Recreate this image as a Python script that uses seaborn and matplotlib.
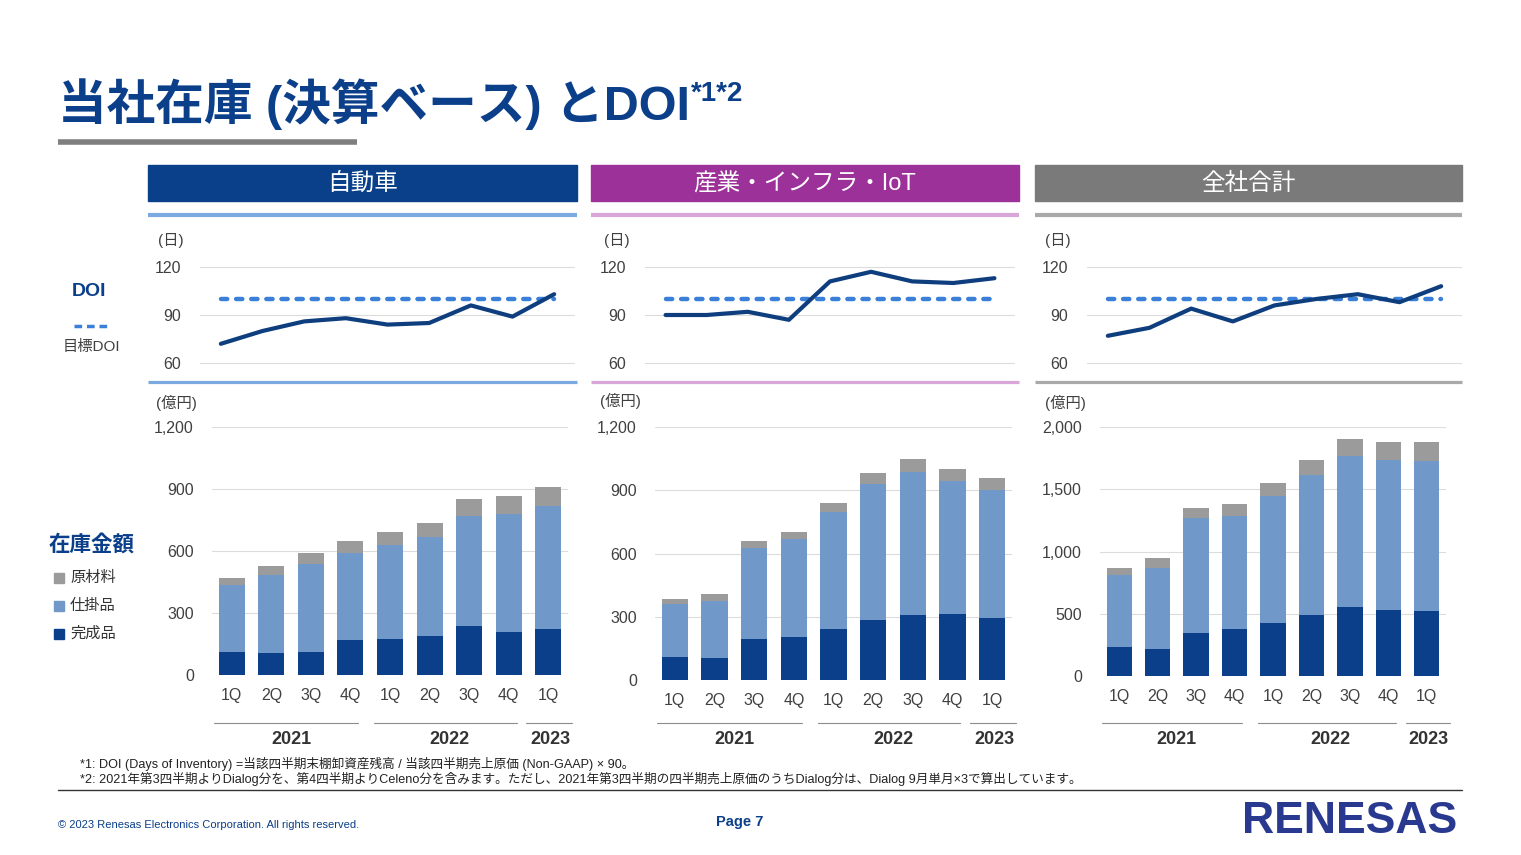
import numpy as np
import pandas as pd
import matplotlib
matplotlib.use('Agg')
import matplotlib.pyplot as plt
import matplotlib.ticker as mticker
import matplotlib.transforms as mtrans
from matplotlib.patches import Rectangle
import seaborn as sns

# quarters 2021 1Q .. 2023 1Q
periods = ['2021-1Q', '2021-2Q', '2021-3Q', '2021-4Q',
           '2022-1Q', '2022-2Q', '2022-3Q', '2022-4Q', '2023-1Q']
quarter_labels = ['1Q', '2Q', '3Q', '4Q', '1Q', '2Q', '3Q', '4Q', '1Q']
years = ['2021', '2022', '2023']
target_doi = 100

# DOI (days)
doi_auto = [72, 80, 86, 88, 84, 85, 96, 89, 103]
doi_indus = [90, 90, 92, 87, 111, 117, 111, 110, 113]
doi_total = [77, 82, 94, 86, 96, 100, 103, 98, 108]

# inventory (億円): 完成品 / 仕掛品 / 原材料
fin_auto = [113, 108, 111, 168, 176, 190, 239, 210, 224]
wip_auto = [321, 374, 428, 421, 451, 476, 529, 567, 592]
raw_auto = [34, 47, 51, 59, 65, 71, 82, 91, 95]

fin_indus = [109, 103, 195, 204, 242, 286, 307, 315, 296]
wip_indus = [252, 274, 430, 464, 557, 644, 679, 631, 604]
raw_indus = [22, 30, 33, 36, 41, 54, 61, 57, 59]

fin_total = [233, 220, 349, 381, 429, 488, 555, 531, 523]
wip_total = [582, 651, 919, 906, 1013, 1123, 1212, 1201, 1206]
raw_total = [54, 75, 83, 94, 110, 124, 139, 150, 153]

navy = '#0B3F8A'
fin_c, wip_c, raw_c = '#0B3F8A', '#7099C9', '#9B9B9B'
doi_c, target_c = '#0E3E7E', '#3A80D8'
tick_c = '#404040'

sns.set_theme(style='white')
plt.rcParams['font.family'] = ['Liberation Sans', 'Noto Sans CJK JP', 'DejaVu Sans']

W, H = 1521, 855
fig = plt.figure(figsize=(W / 100, H / 100), dpi=100)
fig.patch.set_facecolor('white')

# background axes in pixel coordinates for the slide decorations
bg = fig.add_axes([0, 0, 1, 1])
bg.set_xlim(0, W)
bg.set_ylim(H, 0)
bg.axis('off')


def box(x0, y0, x1, y1):
    return [x0 / W, 1 - y1 / H, (x1 - x0) / W, (y1 - y0) / H]


# title
title = bg.text(58, 104, '当社在庫 (決算ベース) とDOI', fontsize=35, fontweight='bold',
                color=navy, va='center', ha='left')
bg.annotate('*1*2', xy=(1, 1), xycoords=title, xytext=(1, -2), textcoords='offset points',
            fontsize=20, fontweight='bold', color=navy, va='top', ha='left')
bg.plot([58, 357], [142, 142], color='#7F7F7F', lw=4, solid_capstyle='butt')

# left side labels
bg.text(89, 291, 'DOI', fontsize=14, fontweight='bold', color=navy, ha='center', va='center')
bg.plot([74, 108], [326, 326], color=target_c, lw=2.5, linestyle=(0, (2.2, 1.4)))
bg.text(91, 347, '目標DOI', fontsize=11, color=tick_c, ha='center', va='center')
bg.text(92, 545, '在庫金額', fontsize=15.5, fontweight='bold', color=navy, ha='center', va='center')
for lab, c, yy in [('原材料', raw_c, 578), ('仕掛品', wip_c, 606), ('完成品', fin_c, 634)]:
    bg.add_patch(Rectangle((54, yy - 5), 10, 10, color=c))
    bg.text(70, yy, lab, fontsize=11, color='#333333', ha='left', va='center')

panels = [
    dict(name='自動車', head='#0A4089', rule='#7BAAE0', doi=doi_auto,
         fin=fin_auto, wip=wip_auto, raw=raw_auto, ymax=1200, ystep=300,
         x0=148, x1=577, doi_x=(200, 575), bar_x=(212, 568), bar_bottom=675,
         day_x=171, yen_x=176, yen_y=403),
    dict(name='産業・インフラ・IoT', head='#9B3199', rule='#D8A6D9', doi=doi_indus,
         fin=fin_indus, wip=wip_indus, raw=raw_indus, ymax=1200, ystep=300,
         x0=591, x1=1019, doi_x=(645, 1015), bar_x=(655, 1012), bar_bottom=680,
         day_x=617, yen_x=620, yen_y=401),
    dict(name='全社合計', head='#7A7A7A', rule='#A9A9A9', doi=doi_total,
         fin=fin_total, wip=wip_total, raw=raw_total, ymax=2000, ystep=500,
         x0=1035, x1=1462, doi_x=(1087, 1462), bar_x=(1100, 1446), bar_bottom=676,
         day_x=1058, yen_x=1065, yen_y=403),
]

year_spans = [(-0.45, 3.2), (3.6, 7.2), (7.45, 8.6)]
year_pos = [1.5, 5.5, 8.05]

for p in panels:
    # header band and rules
    bg.add_patch(Rectangle((p['x0'], 165), p['x1'] - p['x0'], 36, color=p['head']))
    bg.text((p['x0'] + p['x1']) / 2, 184, p['name'], fontsize=17, color='white',
            ha='center', va='center')
    bg.plot([p['x0'], p['x1']], [215, 215], color=p['rule'], lw=3, solid_capstyle='butt')
    bg.plot([p['x0'], p['x1']], [382, 382], color=p['rule'], lw=2.3, solid_capstyle='butt')
    bg.text(p['day_x'], 240, '(日)', fontsize=11, color=tick_c, ha='center', va='center')
    bg.text(p['yen_x'], p['yen_y'], '(億円)', fontsize=11, color=tick_c, ha='center', va='center')

    # DOI line chart
    ax = fig.add_axes(box(p['doi_x'][0], 259, p['doi_x'][1], 371))
    xs = np.arange(len(periods))
    sns.lineplot(x=xs, y=[target_doi] * len(xs), ax=ax, color=target_c, lw=3.2)
    tl = ax.lines[-1]
    tl.set_linestyle((0, (1.4, 2.0)))
    tl.set_dash_capstyle('round')
    sns.lineplot(x=xs, y=p['doi'], ax=ax, color=doi_c, lw=3.0)
    ax.lines[-1].set_solid_capstyle('round')
    ax.set_xlim(-0.5, 8.5)
    ax.set_ylim(55, 125)
    ax.set_yticks([60, 90, 120])
    ax.set_xticks([])
    ax.yaxis.grid(True, color='#DCDCDC', lw=0.8)
    ax.set_axisbelow(True)
    ax.tick_params(axis='y', length=0, labelsize=11.5, colors=tick_c, pad=13.5)
    ax.set_xlabel('')
    ax.set_ylabel('')
    sns.despine(ax=ax, left=True, bottom=True)
    ax.patch.set_alpha(0)

    # stacked inventory bars (overlapping cumulative totals)
    df = pd.DataFrame({'period': periods, 'fin': p['fin'], 'wip': p['wip'], 'raw': p['raw']})
    df['fin_wip'] = df['fin'] + df['wip']
    df['total'] = df['fin_wip'] + df['raw']
    ax2 = fig.add_axes(box(p['bar_x'][0], 427, p['bar_x'][1], p['bar_bottom']))
    for col, c in [('total', raw_c), ('fin_wip', wip_c), ('fin', fin_c)]:
        sns.barplot(data=df, x='period', y=col, color=c, width=0.66, saturation=1,
                    edgecolor='none', ax=ax2)
    ax2.set_xlim(-0.5, 8.5)
    ax2.set_ylim(0, p['ymax'])
    ax2.set_yticks(np.arange(0, p['ymax'] + 1, p['ystep']))
    ax2.yaxis.set_major_formatter(mticker.StrMethodFormatter('{x:,.0f}'))
    ax2.set_xticks(range(len(periods)))
    ax2.set_xticklabels(quarter_labels)
    ax2.yaxis.grid(True, color='#DCDCDC', lw=0.8)
    ax2.set_axisbelow(True)
    ax2.tick_params(axis='y', length=0, labelsize=11.5, colors=tick_c, pad=13)
    ax2.tick_params(axis='x', length=0, labelsize=11.5, colors=tick_c, pad=9)
    ax2.set_xlabel('')
    ax2.set_ylabel('')
    sns.despine(ax=ax2, left=True, bottom=True)
    ax2.patch.set_alpha(0)

    # year brackets under the quarters
    tr = mtrans.blended_transform_factory(ax2.transData, fig.transFigure)
    for (a, b), xp, yr in zip(year_spans, year_pos, years):
        ax2.plot([a, b], [1 - 723 / H] * 2, transform=tr, color='#8C8C8C', lw=0.8, clip_on=False)
        ax2.text(xp, 1 - 739 / H, yr, transform=tr, fontsize=13, fontweight='bold',
                 color='#333333', ha='center', va='center')

# footnotes and footer
bg.text(80, 764, '*1: DOI (Days of Inventory) =当該四半期末棚卸資産残高 / 当該四半期売上原価 (Non-GAAP) × 90。',
        fontsize=9.1, color='#222222', ha='left', va='center')
bg.text(80, 779, '*2: 2021年第3四半期よりDialog分を、第4四半期よりCeleno分を含みます。ただし、'
        '2021年第3四半期の四半期売上原価のうちDialog分は、Dialog 9月単月×3で算出しています。',
        fontsize=9.1, color='#222222', ha='left', va='center')
bg.plot([58, 1462], [790, 790], color='#333333', lw=1)
bg.text(58, 825, '© 2023 Renesas Electronics Corporation. All rights reserved.',
        fontsize=8, color=navy, ha='left', va='center')
bg.text(740, 822, 'Page 7', fontsize=10.5, fontweight='bold', color=navy, ha='center', va='center')
bg.text(1350, 821, 'RENESAS', fontsize=32, fontweight='bold', color='#29398F',
        ha='center', va='center')

fig.savefig('out.png', dpi=100, facecolor='white')
